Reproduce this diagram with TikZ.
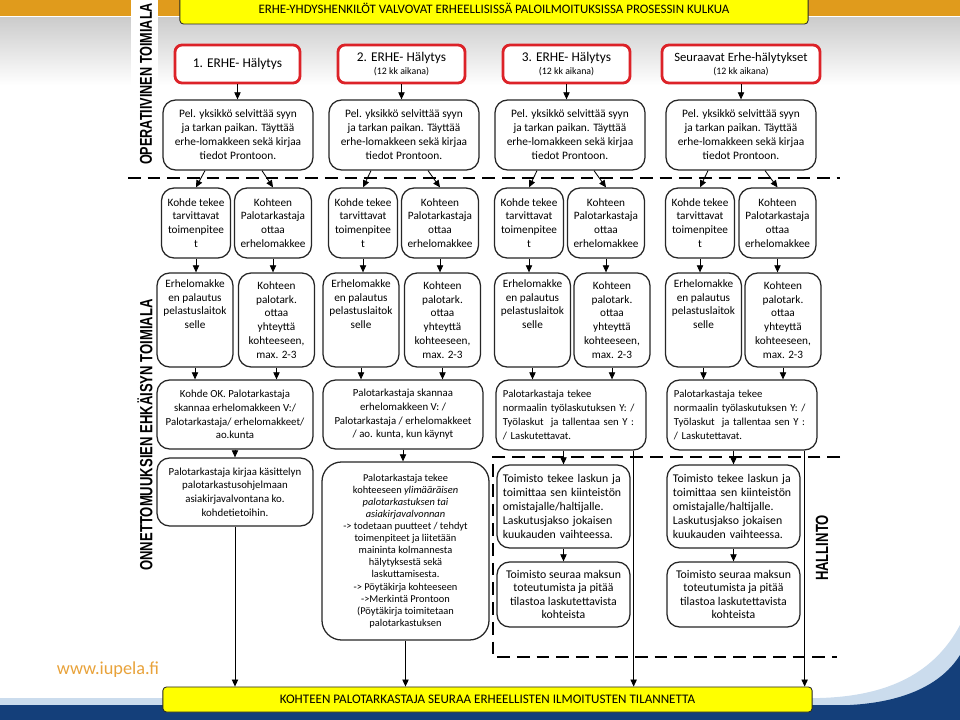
\documentclass[tikz,border=0pt]{standalone}
\usepackage{fontspec}
\setmainfont{Carlito}
\newfontfamily\arialfont{Liberation Sans}
\usepackage{graphicx}
\usetikzlibrary{arrows.meta, calc}
\definecolor{erheRed}{HTML}{DC2228}
\definecolor{erheYellow}{HTML}{FFFF00}
\definecolor{erheOrange}{HTML}{E09B1C}
\definecolor{erheBlue}{HTML}{143F7A}
\definecolor{erheSky}{HTML}{B5CDE6}
\definecolor{erheLink}{HTML}{E8A23A}
\definecolor{erheInk}{HTML}{262626}
\newcommand{\kkspan}{{\fontsize{7}{8}\selectfont(12 kk aikana)}}

\tikzset{
  alarm/.style={draw=erheRed, line width=2pt, rounded corners=5pt, fill=white,
    align=center, minimum height=0.95cm, inner sep=0pt,
    font=\fontsize{9.5}{9.5}\selectfont},
  stage/.style={draw=erheInk, line width=0.9pt, rounded corners=9pt, fill=white,
    align=center, inner sep=0pt, font=\fontsize{8}{9.8}\selectfont},
  notestage/.style={stage, align=left, inner xsep=0.175cm},
  banner/.style={draw=erheInk, line width=0.6pt, fill=erheYellow,
    rounded corners=2.5pt, inner sep=0pt},
  flow/.style={-{Triangle[length=5pt,width=4.5pt]}, line width=0.6pt},
  border/.style={line width=1.7pt, dash pattern=on 9pt off 5pt},
  sidelabel/.style={rotate=90, font=\arialfont\bfseries\fontsize{9.3}{11}\selectfont},
}

\begin{document}
\begin{tikzpicture}[x=0.025cm, y=-0.025cm]
  \useasboundingbox (0,0) rectangle (960,720);
  % ---- backdrop ----
  \fill[erheOrange] (0,0) rectangle (960,16);
  \shade[top color=black!20, bottom color=white] (0,18) rectangle (960,85);
  \fill[white] (131,0) rectangle (158,176);
  \fill[erheSky!70] (0,698) -- (820,698) .. controls (890,696) and (935,672) .. (960,625)
    -- (960,720) -- (0,720) -- cycle;
  \fill[erheBlue] (0,705) -- (850,705) .. controls (905,702) and (942,684) .. (960,655)
    -- (960,720) -- (0,720) -- cycle;

  % ---- banners and side labels ----
  \node[banner, minimum width=15.7cm, minimum height=0.8cm,
        font=\fontsize{9.2}{11}\selectfont] (head) at (494,8)
    {ERHE-YHDYSHENKILÖT VALVOVAT ERHEELLISISSÄ PALOILMOITUKSISSA PROSESSIN KULKUA};
  \node[banner, minimum width=16.225cm, minimum height=0.625cm,
        font=\fontsize{9.3}{11}\selectfont] (bar) at (487.5,699.5)
    {KOHTEEN PALOTARKASTAJA SEURAA ERHEELLISTEN ILMOITUSTEN TILANNETTA};
  \node[sidelabel, font=\arialfont\bfseries\fontsize{9}{11}\selectfont] (opLabel)
    at (146,84) {\scalebox{1}[1.35]{OPERATIIVINEN TOIMIALA}};
  \node[sidelabel] (preLabel) at (145,435)
    {\scalebox{1}[1.35]{ONNETTOMUUKSIEN EHKÄISYN TOIMIALA}};
  \node[sidelabel] (admLabel) at (822,548) {\scalebox{1}[1.35]{HALLINTO}};
  \node[font=\fontsize{13}{15}\selectfont, text=erheLink] (site) at (108,670)
    {www.iupela.fi};

  % ---- alarms ----
  \node[alarm, minimum width=3.125cm] (hal1) at (237.5,64) {1. ERHE- Hälytys};
  \node[alarm, minimum width=3.175cm] (hal2) at (401.5,64) {2. ERHE- Hälytys\\\kkspan};
  \node[alarm, minimum width=3.175cm] (hal3) at (566.5,64) {3. ERHE- Hälytys\\\kkspan};
  \node[alarm, minimum width=3.95cm, font=\fontsize{9}{9.5}\selectfont] (hal4)
    at (741,64) {Seuraavat Erhe-hälytykset\\\kkspan};

  % ---- operative steps ----
  \foreach \i/\x in {1/238, 2/404, 3/570, 4/741}
    \node[stage, minimum width=3.75cm, minimum height=1.75cm,
          font=\fontsize{8.1}{10}\selectfont] (check\i) at (\x,135)
      {Pel. yksikkö selvittää syyn\\ja tarkan paikan. Täyttää\\erhe-lomakkeen sekä kirjaa\\tiedot Prontoon.};
  \draw[border] (128,178) -- (840,178);

  \foreach \i/\xa/\xb in {1/196/273, 2/363/440, 3/529/606, 4/700/777.5} {
    \node[stage, minimum width=1.725cm, minimum height=1.75cm] (act\i) at (\xa,223)
      {Kohde tekee\\tarvittavat\\toimenpitee\\t};
    \node[stage, minimum width=1.925cm, minimum height=1.75cm] (form\i) at (\xb,223)
      {Kohteen\\Palotarkastaja\\ottaa\\erhelomakkee};
  }
  \foreach \i/\xa/\xb in {1/195/276.5, 2/361/442.5, 3/532.5/612, 4/703.5/783} {
    \node[stage, minimum width=1.9cm, minimum height=2.35cm] (ret\i) at (\xa,320)
      {Erhelomakke\\en palautus\\pelastuslaitok\\selle\\ \strut\\ \strut};
    \node[stage, minimum width=1.9cm, minimum height=2.35cm] (call\i) at (\xb,320)
      {Kohteen\\palotark.\\ottaa\\yhteyttä\\kohteeseen,\\max. 2-3};
  }

  % ---- follow-up per alarm ----
  \node[stage, minimum width=3.9cm, minimum height=1.725cm,
        font=\fontsize{7.7}{9.7}\selectfont] (task1) at (235,414.5)
    {Kohde OK. Palotarkastaja\\skannaa erhelomakkeen V:/\\Palotarkastaja/ erhelomakkeet/\\ao.kunta};
  \node[stage, minimum width=4cm, minimum height=1.725cm,
        font=\fontsize{7.7}{9.7}\selectfont] (task2) at (403,414.5)
    {Palotarkastaja skannaa\\erhelomakkeen V: /\\Palotarkastaja / erhelomakkeet\\/ ao. kunta, kun käynyt};
  \foreach \i/\x in {3/571, 4/742}
    \node[notestage, text width=3.4cm, minimum height=1.75cm,
          font=\fontsize{7.6}{10}\selectfont] (task\i) at (\x,415)
      {Palotarkastaja tekee\\normaalin työlaskutuksen Y: /\\Työlaskut~ ja tallentaa sen Y :\\/ Laskutettavat.};

  \node[stage, minimum width=3.9cm, minimum height=1.7cm,
        font=\fontsize{7.7}{9.8}\selectfont] (log1) at (235,492)
    {Palotarkastaja kirjaa käsittelyn\\palotarkastusohjelmaan\\asiakirjavalvontana ko.\\kohdetietoihin.};
  \node[stage, rounded corners=14pt, minimum width=4.175cm, minimum height=4.45cm,
        font=\fontsize{7.4}{8.6}\selectfont] (extra2) at (405.5,551)
    {Palotarkastaja tekee\\kohteeseen \textit{ylimääräisen}\\\textit{palotarkastuksen tai}\\\textit{asiakirjavalvonnan}\\-> todetaan puutteet / tehdyt\\toimenpiteet ja liitetään\\maininta kolmannesta\\hälytyksestä sekä\\laskuttamisesta.\\-> Pöytäkirja kohteeseen\\->Merkintä Prontoon\\(Pöytäkirja toimitetaan\\palotarkastuksen};

  % ---- administration ----
  \foreach \i/\x in {3/563.5, 4/733.5} {
    \node[notestage, inner xsep=0.15cm, text width=3.025cm, minimum height=2.075cm,
          font=\fontsize{8.4}{10}\selectfont] (invoice\i) at (\x,506.5)
      {Toimisto tekee laskun ja\\toimittaa sen kiinteistön\\omistajalle/haltijalle.\\Laskutusjakso jokaisen\\kuukauden vaihteessa.};
    \node[stage, minimum width=3.325cm, minimum height=1.625cm,
          font=\fontsize{8.4}{9.6}\selectfont] (follow\i) at (\x,594.5)
      {Toimisto seuraa maksun\\toteutumista ja pitää\\tilastoa laskutettavista\\kohteista};
  }
  \draw[border] (840,457) -- (493,457) -- (493,657) -- (837,657);

  % ---- connectors ----
  \foreach \i in {1,...,4} {
    \draw[flow] (hal\i.south) -- (hal\i.south |- check\i.north);
    \draw[flow] ([xshift=-0.825cm]check\i.south) -- (act\i.north);
    \draw[flow] ([xshift=0.6cm]check\i.south) -- (form\i.north);
    \draw[flow] (act\i.south) -- (act\i.south |- ret\i.north);
    \draw[flow] (form\i.south) -- (form\i.south |- call\i.north);
    \draw[flow] (ret\i.south) -- (ret\i.south |- task\i.north);
    \draw[flow] (call\i.south) -- (call\i.south |- task\i.north);
  }
  \draw[flow] (task1.south) -- (task1.south |- log1.north);
  \draw[flow] (task2.south) -- (task2.south |- extra2.north);
  \draw[flow] (log1.south) -- (log1.south |- bar.north);
  \draw[flow] (extra2.south) -- (extra2.south |- bar.north);
  \foreach \i in {3,4} {
    \draw[flow] (task\i.south -| invoice\i.north) -- (invoice\i.north);
    \draw[flow] (invoice\i.south) -- (follow\i.north);
    \coordinate (drop\i) at ([xshift=-0.325cm]task\i.south east);
    \draw[flow] (drop\i) -- (drop\i |- bar.north);
  }
\end{tikzpicture}
\end{document}
